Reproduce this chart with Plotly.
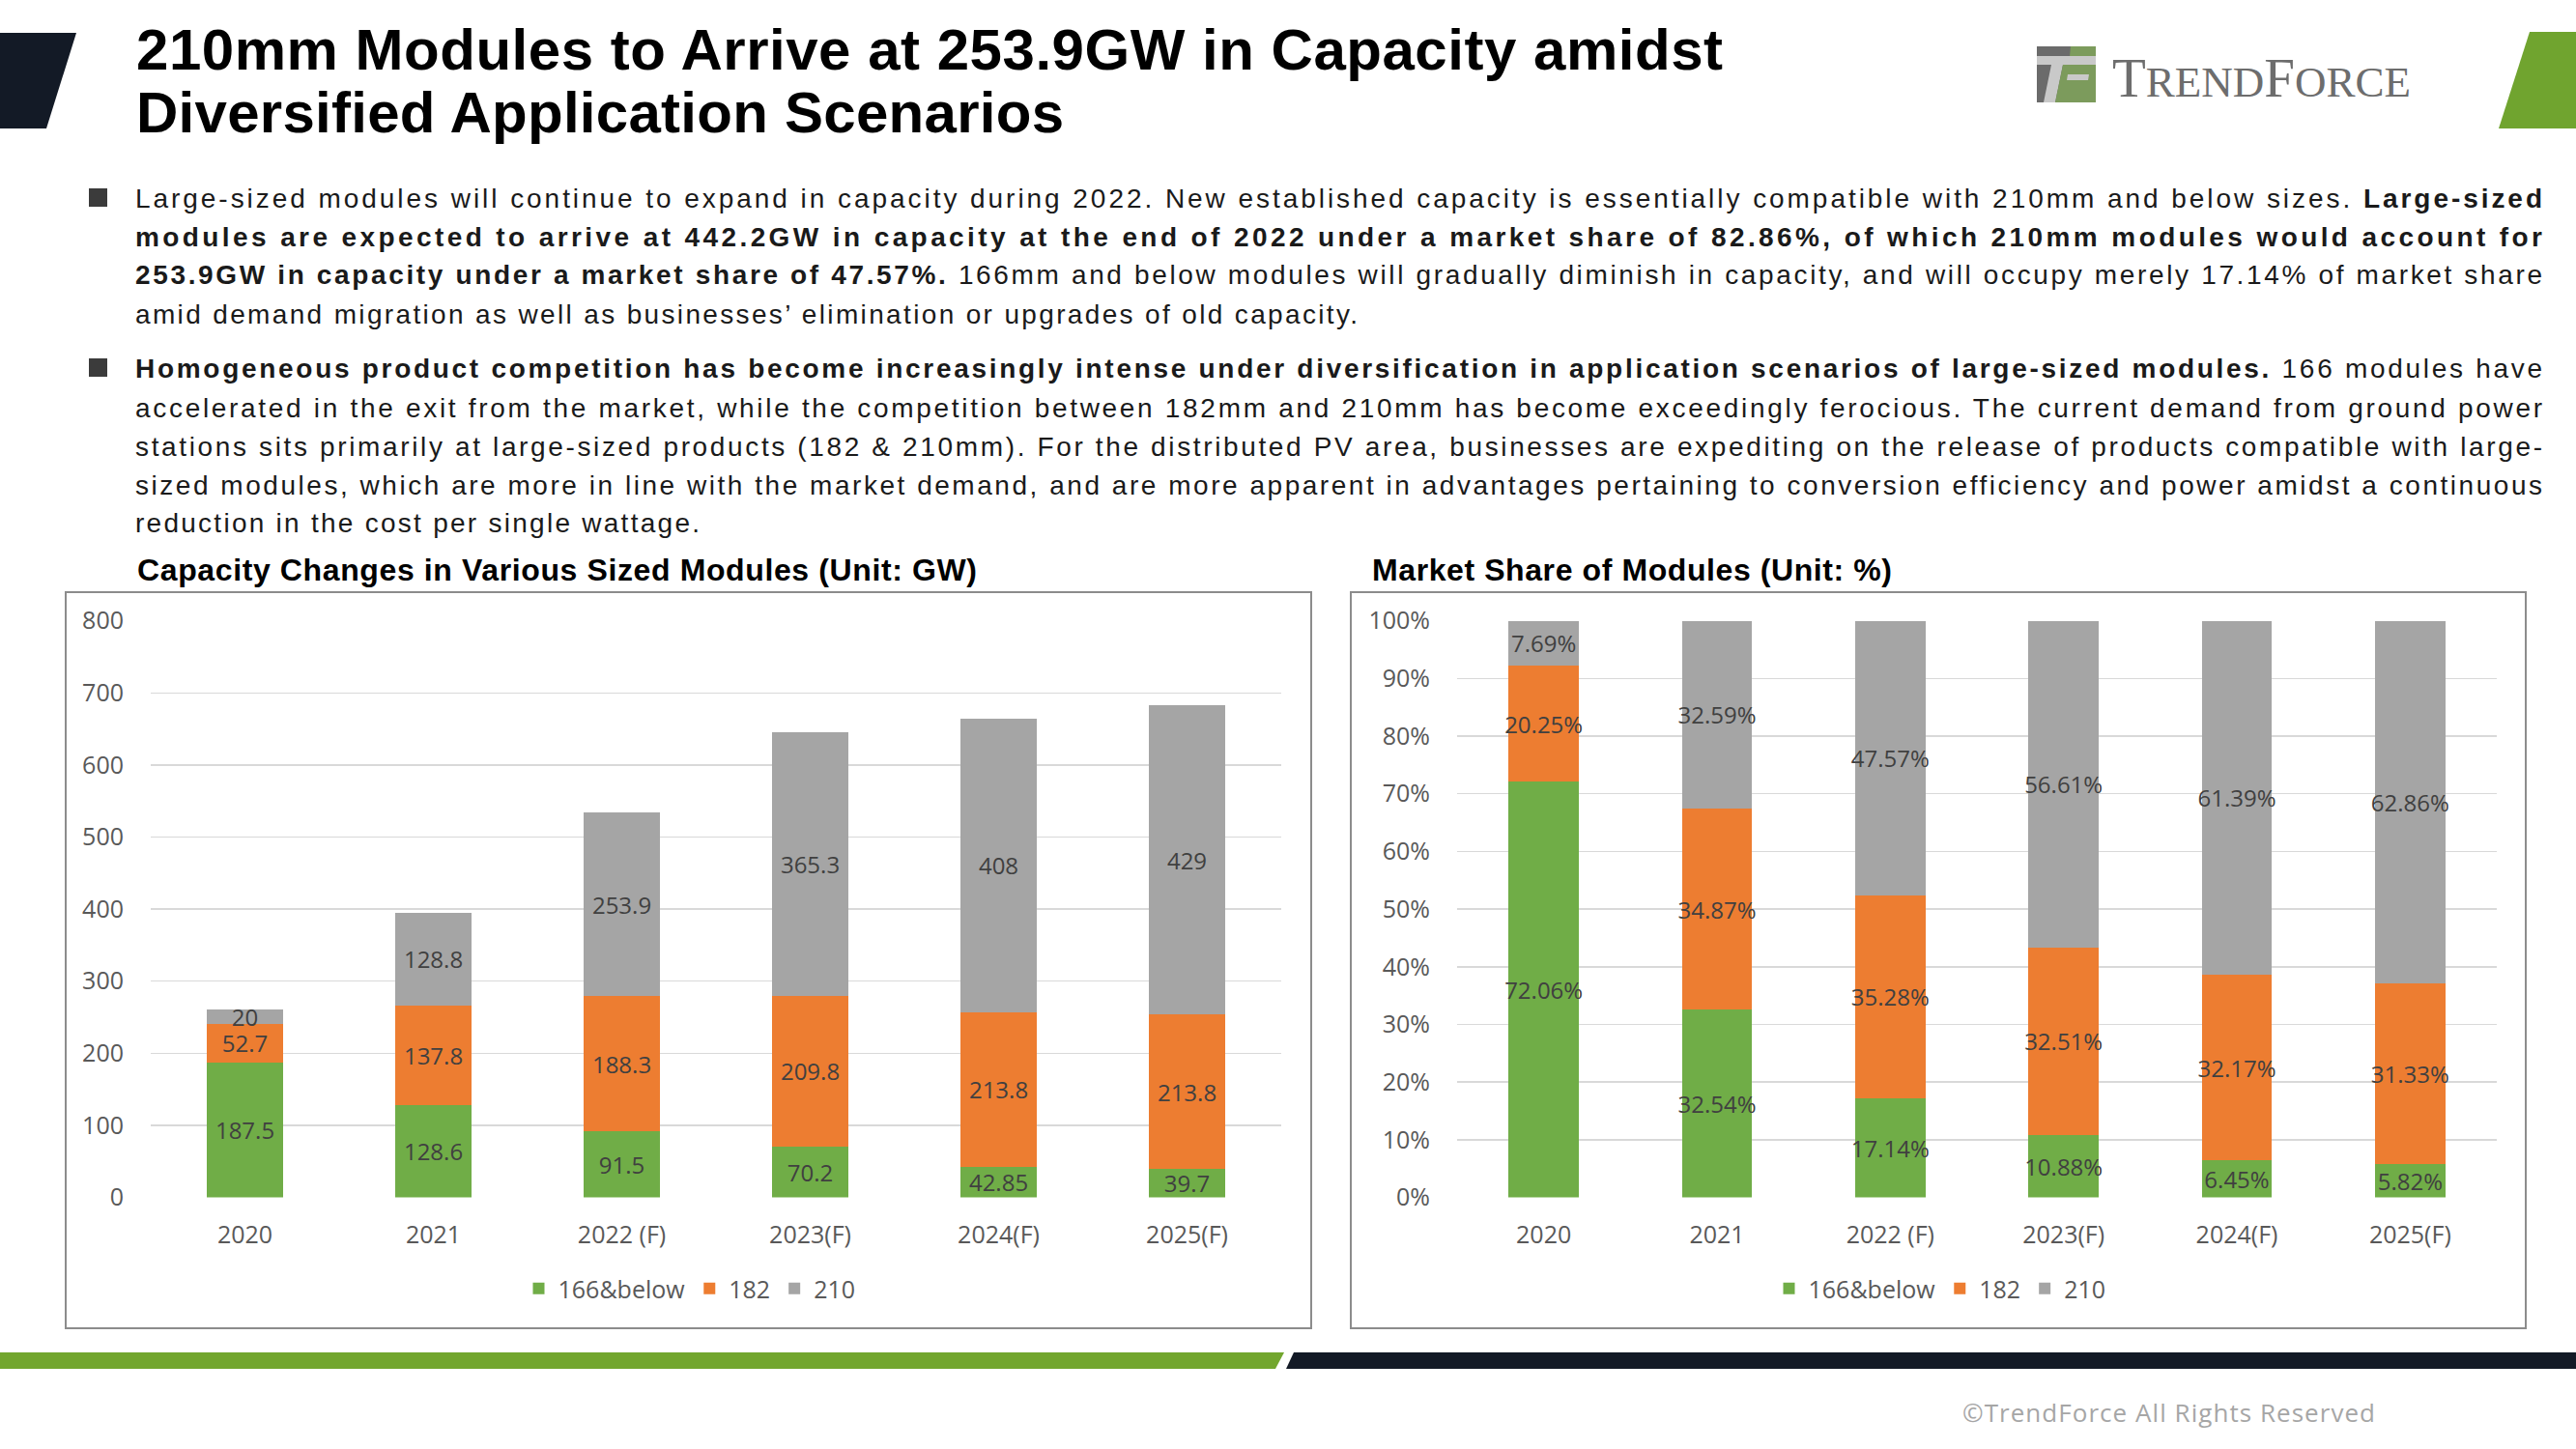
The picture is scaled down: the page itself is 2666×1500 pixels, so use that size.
import json
import re
import plotly.graph_objects as go

W, H = 2666, 1500

# ---------------- data ----------------
categories = ["2020", "2021", "2022 (F)", "2023(F)", "2024(F)", "2025(F)"]
series_names = ["166&below", "182", "210"]
capacity_166 = [187.5, 128.6, 91.5, 70.2, 42.85, 39.7]
capacity_182 = [52.7, 137.8, 188.3, 209.8, 213.8, 213.8]
capacity_210 = [20, 128.8, 253.9, 365.3, 408, 429]
share_166 = [72.06, 32.54, 17.14, 10.88, 6.45, 5.82]
share_182 = [20.25, 34.87, 35.28, 32.51, 32.17, 31.33]
share_210 = [7.69, 32.59, 47.57, 56.61, 61.39, 62.86]
capacity_ticks = [0, 100, 200, 300, 400, 500, 600, 700, 800]
share_ticks = [0, 10, 20, 30, 40, 50, 60, 70, 80, 90, 100]
share_tick_labels = ["0%", "10%", "20%", "30%", "40%", "50%", "60%", "70%", "80%", "90%", "100%"]

title_lines = ["210mm Modules to Arrive at 253.9GW in Capacity amidst",
               "Diversified Application Scenarios"]
para1 = [
    "Large-sized modules will continue to expand in capacity during 2022. New established capacity is essentially compatible with 210mm and below sizes. <b>Large-sized</b>",
    "<b>modules are expected to arrive at 442.2GW in capacity at the end of 2022 under a market share of 82.86%, of which 210mm modules would account for</b>",
    "<b>253.9GW in capacity under a market share of 47.57%.</b> 166mm and below modules will gradually diminish in capacity, and will occupy merely 17.14% of market share",
    "amid demand migration as well as businesses’ elimination or upgrades of old capacity.",
]
para2 = [
    "<b>Homogeneous product competition has become increasingly intense under diversification in application scenarios of large-sized modules.</b> 166 modules have",
    "accelerated in the exit from the market, while the competition between 182mm and 210mm has become exceedingly ferocious. The current demand from ground power",
    "stations sits primarily at large-sized products (182 & 210mm). For the distributed PV area, businesses are expediting on the release of products compatible with large-",
    "sized modules, which are more in line with the market demand, and are more apparent in advantages pertaining to conversion efficiency and power amidst a continuous",
    "reduction in the cost per single wattage.",
]
chart1_title = "Capacity Changes in Various Sized Modules (Unit: GW)"
chart2_title = "Market Share of Modules (Unit: %)"
copyright_text = "©TrendForce All Rights Reserved"

colors = ["#70AD47", "#ED7D31", "#A5A5A5"]

# ---------------- helpers ----------------
def fx(x):
    return x / W


def fy(y):
    return 1 - y / H


def path(points):
    return "M " + " L ".join(f"{fx(x):.6f},{fy(y):.6f}" for x, y in points) + " Z"


SANS = "Liberation Sans, Arial, sans-serif"
CHART = "Open Sans, Noto Sans, sans-serif"

fig = go.Figure()

cap_series = [capacity_166, capacity_182, capacity_210]
share_series = [share_166, share_182, share_210]

for name, vals, col in zip(series_names, cap_series, colors):
    fig.add_trace(go.Bar(
        x=categories, y=vals, name=name, marker=dict(color=col, line=dict(width=0)),
        text=[f"{v:g}" for v in vals], textposition="inside", insidetextanchor="middle",
        textangle=0, constraintext="none",
        textfont=dict(family=CHART, size=24, color="#404040"),
        xaxis="x", yaxis="y", legend="legend", hoverinfo="skip",
    ))

for name, vals, col in zip(series_names, share_series, colors):
    fig.add_trace(go.Bar(
        x=categories, y=vals, name=name, marker=dict(color=col, line=dict(width=0)),
        text=[f"{v:.2f}%" for v in vals], textposition="inside", insidetextanchor="middle",
        textangle=0, constraintext="none",
        textfont=dict(family=CHART, size=24, color="#404040"),
        xaxis="x2", yaxis="y2", legend="legend2", hoverinfo="skip",
    ))

ydom = [fy(1239.5), fy(642.7)]
axis_common = dict(tickfont=dict(family=CHART, size=25, color="#595959"), showline=False,
                   zeroline=False, fixedrange=True, automargin=False)

fig.update_layout(
    width=W, height=H, autosize=False,
    margin=dict(l=0, r=0, t=0, b=0, pad=0),
    paper_bgcolor="white", plot_bgcolor="rgba(0,0,0,0)",
    barmode="stack", bargap=0.595,
    uniformtext=dict(mode=False),
    xaxis=dict(domain=[fx(156), fx(1326)], anchor="y", type="category",
               categoryorder="array", categoryarray=categories,
               ticks="outside", ticklen=16, tickcolor="rgba(0,0,0,0)", showgrid=False, **axis_common),
    yaxis=dict(domain=ydom, anchor="x", range=[0, 800], tickvals=capacity_ticks,
               ticks="outside", ticklen=22, tickcolor="rgba(0,0,0,0)",
               showgrid=True, gridcolor="#D9D9D9", gridwidth=1.5, **axis_common),
    xaxis2=dict(domain=[fx(1508), fx(2584)], anchor="y2", type="category",
                categoryorder="array", categoryarray=categories,
                ticks="outside", ticklen=16, tickcolor="rgba(0,0,0,0)", showgrid=False, **axis_common),
    yaxis2=dict(domain=ydom, anchor="x2", range=[0, 100], tickmode="array",
                tickvals=share_ticks, ticktext=share_tick_labels,
                ticks="outside", ticklen=22, tickcolor="rgba(0,0,0,0)",
                showgrid=True, gridcolor="#D9D9D9", gridwidth=1.5, **axis_common),
    legend=dict(orientation="h", x=fx(714), xanchor="center", y=fy(1334), yanchor="middle",
                font=dict(family=CHART, size=25, color="#595959"), bgcolor="rgba(0,0,0,0)",
                traceorder="normal", itemclick=False, itemdoubleclick=False),
    legend2=dict(orientation="h", x=fx(2008), xanchor="center", y=fy(1334), yanchor="middle",
                 font=dict(family=CHART, size=25, color="#595959"), bgcolor="rgba(0,0,0,0)",
                 traceorder="normal", itemclick=False, itemdoubleclick=False),
    showlegend=True,
)

shapes = []
# decorative header / footer shapes
shapes.append(dict(type="path", path=path([(0, 34), (79, 34), (48, 133), (0, 133)]),
                   fillcolor="#131A26", line=dict(width=0), xref="paper", yref="paper"))
shapes.append(dict(type="path", path=path([(2618, 33), (2666, 33), (2666, 133), (2586, 133)]),
                   fillcolor="#70A42F", line=dict(width=0), xref="paper", yref="paper"))
shapes.append(dict(type="path", path=path([(0, 1400), (1329, 1400), (1320, 1417), (0, 1417)]),
                   fillcolor="#72A62E", line=dict(width=0), xref="paper", yref="paper"))
shapes.append(dict(type="path", path=path([(1339, 1400), (2666, 1400), (2666, 1417), (1331, 1417)]),
                   fillcolor="#131A26", line=dict(width=0), xref="paper", yref="paper"))
# logo icon
shapes.append(dict(type="rect", x0=fx(2108), x1=fx(2169), y0=fy(106), y1=fy(48),
                   fillcolor="#6B6B6B", line=dict(width=0), xref="paper", yref="paper"))
shapes.append(dict(type="path", path=path([(2143, 48), (2169, 48), (2169, 58), (2142, 58)]),
                   fillcolor="#7C9B5C", line=dict(width=0), xref="paper", yref="paper"))
shapes.append(dict(type="rect", x0=fx(2108), x1=fx(2169), y0=fy(67), y1=fy(58),
                   fillcolor="#C9C9C9", line=dict(width=0), xref="paper", yref="paper"))
shapes.append(dict(type="path", path=path([(2123, 67), (2135, 67), (2127, 106), (2115, 106)]),
                   fillcolor="#C9C9C9", line=dict(width=0), xref="paper", yref="paper"))
shapes.append(dict(type="path", path=path([(2135, 67), (2169, 67), (2169, 106), (2127, 106)]),
                   fillcolor="#7C9B5C", line=dict(width=0), xref="paper", yref="paper"))
shapes.append(dict(type="path", path=path([(2140, 77), (2162, 77), (2161, 83), (2139, 83)]),
                   fillcolor="#C9C9C9", line=dict(width=0), xref="paper", yref="paper"))
# bullets
for top in (195, 371):
    shapes.append(dict(type="rect", x0=fx(92), x1=fx(111), y0=fy(top + 19), y1=fy(top),
                       fillcolor="#3B3B3B", line=dict(width=0), xref="paper", yref="paper"))
# chart frames
for x0, x1 in ((68, 1357), (1398, 2614)):
    shapes.append(dict(type="rect", x0=fx(x0), x1=fx(x1), y0=fy(1375), y1=fy(613),
                       fillcolor="rgba(0,0,0,0)", line=dict(width=2, color="#8C8C8C"),
                       xref="paper", yref="paper", layer="below"))
fig.update_layout(shapes=shapes)

ann = []


def add_text(text, x, y, size, color, family=SANS, xanchor="left"):
    ann.append(dict(text=text, x=fx(x), y=fy(y), xref="paper", yref="paper", showarrow=False,
                    xanchor=xanchor, yanchor="middle", align="left", borderpad=0,
                    font=dict(family=family, size=size, color=color)))


add_text(f"<b>{title_lines[0]}</b>", 140, 52, 60, "#000000")
add_text(f"<b>{title_lines[1]}</b>", 140, 117, 60, "#000000")
add_text("<span style='font-size:57px'>T</span>REND<span style='font-size:57px'>F</span>ORCE",
         2185, 80, 45, "#6D6D6D", family="Liberation Serif, Times New Roman, serif")

for i, line in enumerate(para1):
    add_text(line, 139, 205 + 40 * i, 28, "#1A1A1A")
for i, line in enumerate(para2):
    add_text(line, 139, 382 + 40 * i, 28, "#1A1A1A")

add_text(f"<b>{chart1_title}</b>", 141, 590, 32, "#000000")
add_text(f"<b>{chart2_title}</b>", 1419, 590, 32, "#000000")
add_text(copyright_text, 2030, 1462, 26, "#A6A6A6", family=CHART)
fig.update_layout(annotations=ann)


def plain(s):
    return re.sub(r"<[^>]+>", "", s)


# measured line lengths (justified paragraphs)
specs = [[plain(title_lines[0])[:25], 1642], [plain(title_lines[1])[:25], 960],
         [chart1_title[:25], 869], [chart2_title[:20], 538], [copyright_text[:15], 427]]
for line in para1[:-1] + para2[:-1]:
    specs.append([plain(line)[:30], 2491])
specs.append([plain(para1[-1])[:30], 1265])
specs.append([plain(para2[-1])[:30], 584])

js = """
(function(){
  var de = document.documentElement, b = document.body;
  de.style.margin = '0'; de.style.padding = '0'; de.style.overflow = 'hidden';
  b.style.margin = '0'; b.style.padding = '0'; b.style.overflow = 'hidden';
  var gd = document.querySelector('.plotly-graph-div');
  if (gd) { gd.style.position = 'absolute'; gd.style.left = '0px'; gd.style.top = '0px'; }
  var specs = %s;
  document.querySelectorAll('text.annotation-text').forEach(function(t){
    var s = t.textContent;
    specs.forEach(function(sp){
      if (s.indexOf(sp[0]) === 0) {
        t.setAttribute('textLength', sp[1]);
        t.setAttribute('lengthAdjust', 'spacing');
      }
    });
  });
})();
""" % json.dumps(specs, ensure_ascii=False)

fig.write_html("out.html", post_script=js, config={"displayModeBar": False, "staticPlot": True})
